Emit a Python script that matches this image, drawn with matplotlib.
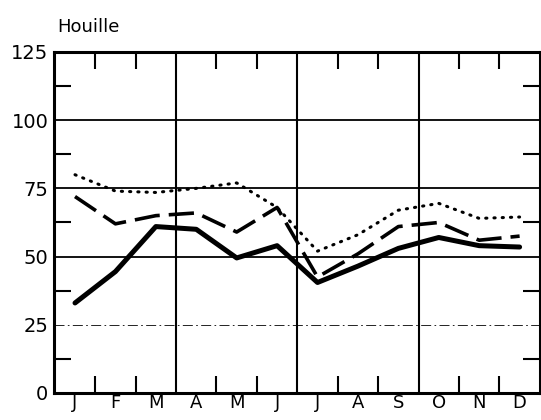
import matplotlib
matplotlib.use("Agg")
import matplotlib.pyplot as plt
import numpy as np

# Valeurs (Houille)
months = ["J", "F", "M", "A", "M", "J", "J", "A", "S", "O", "N", "D"]
solid_vals = [33, 44.5, 61, 60, 49.5, 54, 40.5, 46.5, 53, 57, 54, 53.5]
dashed_vals = [72, 62, 65, 66, 59, 68, 42.5, 51, 61, 62.5, 56, 57.5]
dotted_vals = [80, 74, 73.5, 75, 77, 68, 52, 58, 67, 69.5, 64, 64.5]
y_ticks = [0, 25, 50, 75, 100, 125]

x = np.arange(len(months))

fig = plt.figure(figsize=(5.41, 4.2), dpi=100)
ax = fig.add_axes([0.0998, 0.0643, 0.898, 0.812])

# grille
for yv in [50, 75, 100]:
    ax.axhline(yv, color="black", lw=1.3, zorder=1)
ax.axhline(25, color="black", lw=0.6, ls=(0, (12, 4, 2, 4)), zorder=1)
for xv in [2.5, 5.5, 8.5]:
    ax.axvline(xv, color="black", lw=1.5, zorder=1)

ax.plot(x, dotted_vals, color="black", lw=2.2, ls=(0, (0.4, 2.3)),
        dash_capstyle="round", zorder=3)
ax.plot(x, dashed_vals, color="black", lw=2.6, ls=(0, (7, 2.5)), zorder=3)
ax.plot(x, solid_vals, color="black", lw=3.6, solid_joinstyle="round",
        solid_capstyle="round", zorder=4)

ax.set_xlim(-0.52, 11.5)
ax.set_ylim(0, 125)

ax.set_xticks(x)
ax.set_xticklabels(months)
ax.set_xticks([0.5, 1.5, 3.5, 4.5, 6.5, 7.5, 9.5, 10.5], minor=True)
ax.set_yticks(y_ticks)
ax.set_yticks([12.5, 37.5, 62.5, 87.5, 112.5], minor=True)

ax.tick_params(axis="both", which="major", length=0, labelsize=14, pad=4)
ax.tick_params(axis="x", which="major", pad=1, labelsize=13)
ax.tick_params(axis="both", which="minor", direction="in", length=12,
               width=1.5, top=True, right=True)

for s in ax.spines.values():
    s.set_linewidth(2.2)

fig.text(0.105, 0.935, "Houille", fontsize=13, ha="left", va="center")

fig.savefig("out.png", dpi=100)
